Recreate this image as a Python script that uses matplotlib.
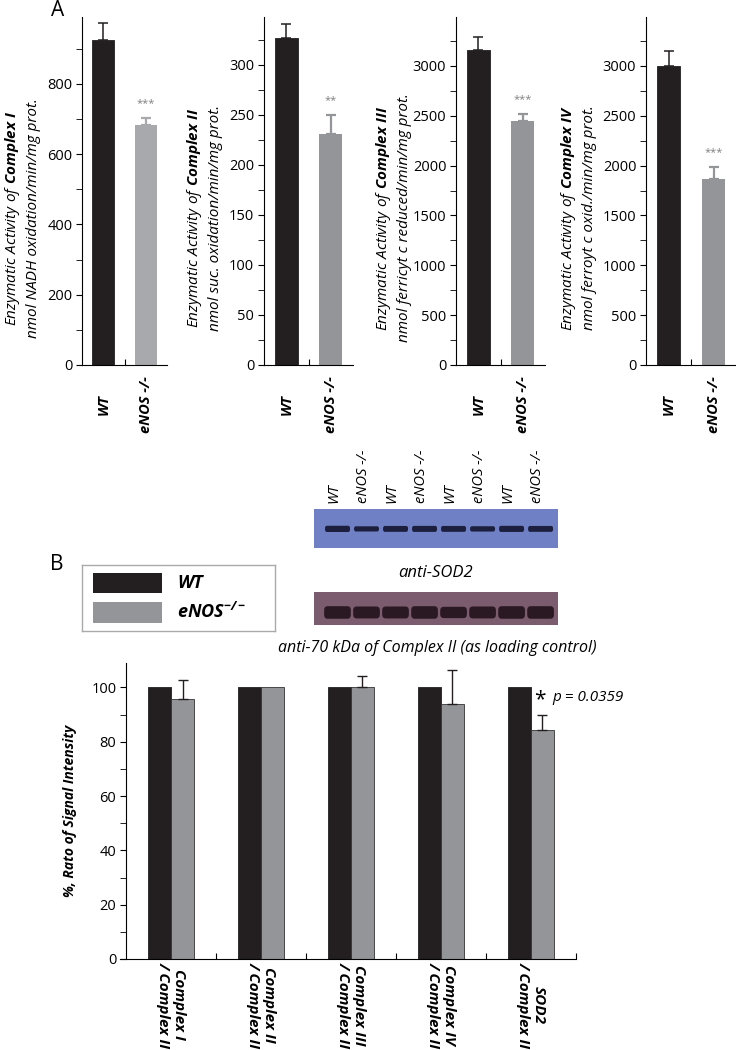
import matplotlib
matplotlib.use("Agg")
import matplotlib.pyplot as plt
from matplotlib.patches import FancyBboxPatch, Rectangle
from matplotlib.transforms import blended_transform_factory

plt.rcParams['font.family'] = ['Open Sans', 'DejaVu Sans']
plt.rcParams['mathtext.fontset'] = 'custom'
plt.rcParams['mathtext.rm'] = 'Open Sans:italic'
plt.rcParams['mathtext.it'] = 'Open Sans:italic'
plt.rcParams['mathtext.bf'] = 'Open Sans:italic:bold'

# ---------------- data ----------------
groups_top = ["WT", "eNOS -/-"]
complex_names = ["I", "II", "III", "IV"]
units = ["nmol NADH oxidation/min/mg prot.",
         "nmol suc. oxidation/min/mg prot.",
         "nmol ferricyt c reduced/min/mg prot.",
         "nmol ferroyt c oxid./min/mg prot."]
wt_activity = [925, 327, 3157, 2997]
wt_err = [47, 14, 133, 153]
enos_activity = [682, 231, 2443, 1867]
enos_err = [21, 19, 74, 123]
sig_marks = ["***", "**", "***", "***"]
ylims_top = [990, 348, 3490, 3490]
major_steps = [200, 50, 500, 500]
minor_steps = [100, 25, 250, 250]
enos_colors = ["#a7a9ac", "#939598", "#939598", "#939598"]

lane_labels = ["WT", "eNOS -/-"] * 4
sod2_band = [1.0, 0.55, 0.85, 0.9, 0.85, 0.6, 0.95, 0.85]
ctrl_band = [1.0, 0.95, 0.95, 1.0, 0.9, 0.95, 1.0, 1.0]

ratio_labels = ["Complex I\n/ Complex II", "Complex II\n/ Complex II",
                "Complex III\n/ Complex II", "Complex IV\n/ Complex II",
                "SOD2\n/ Complex II"]
wt_ratio = [100, 100, 100, 100, 100]
enos_ratio = [95.8, 100, 100, 94.0, 84.4]
enos_ratio_err = [6.8, 0, 4.3, 12.5, 5.4]

WT_COLOR = "#231f20"
GRAY = "#939598"

W, H = 736, 1050
fig = plt.figure(figsize=(W / 100, H / 100), dpi=100)


def ax_px(l, t, r, b):
    return fig.add_axes([l / W, 1 - b / H, (r - l) / W, (b - t) / H])


# ---------------- panel A ----------------
panel_x = [(82, 167), (264, 353), (456, 545), (646, 736)]
label_x = [22, 204, 393, 578]
for i in range(4):
    l, r = panel_x[i]
    ax = ax_px(l, 17, r, 365)
    ax.bar([0], [wt_activity[i]], width=0.52, color=WT_COLOR, edgecolor=WT_COLOR, lw=0.6)
    ax.errorbar([0], [wt_activity[i]], yerr=[[0], [wt_err[i]]], fmt='none',
                ecolor=WT_COLOR, elinewidth=1.1, capsize=3.5, capthick=1.1)
    ax.bar([1], [enos_activity[i]], width=0.52, color=enos_colors[i])
    ax.errorbar([1], [enos_activity[i]], yerr=[[0], [enos_err[i]]], fmt='none',
                ecolor=enos_colors[i], elinewidth=1.6, capsize=3.5, capthick=1.6)
    ax.text(1, enos_activity[i] + enos_err[i] + ylims_top[i] * 0.025, sig_marks[i],
            ha='center', va='bottom', fontsize=8, color='#808080')
    ax.set_xlim(-0.5, 1.5)
    ax.set_ylim(0, ylims_top[i])
    ax.spines['top'].set_visible(False)
    ax.spines['right'].set_visible(False)
    ax.set_xticks([0.5])
    ax.set_xticklabels([])
    ax.tick_params(axis='x', direction='in', length=4)
    ax.set_yticks(range(0, ylims_top[i], major_steps[i]))
    ax.set_yticks(range(0, ylims_top[i], minor_steps[i]), minor=True)
    ax.tick_params(axis='y', which='both', direction='out', length=4, labelsize=10.5, pad=3)
    trans = blended_transform_factory(ax.transData, ax.transAxes)
    for j, g in enumerate(groups_top):
        ax.text(j, -40 / 348, g, transform=trans, rotation=90, ha='center', va='center',
                fontsize=10.5, fontweight='bold', fontstyle='italic')
    lab = (r"$\mathit{Enzymatic\ Activity\ of\ }\mathbf{Complex\ " + complex_names[i] + "}$"
           + "\n" + units[i])
    fig.text(label_x[i] / W, 1 - 218 / H, lab, rotation=90, ha='center', va='center',
             fontsize=11, fontstyle='italic', multialignment='center', linespacing=1.3)

fig.text(58 / W, 1 - 10 / H, "A", fontsize=15, ha='center', va='center')
fig.text(57 / W, 1 - 564 / H, "B", fontsize=15, ha='center', va='center')

# ---------------- blots ----------------
blot1 = ax_px(314, 509, 558, 548)
blot1.set_facecolor("#6f81c4")
for k, v in enumerate(sod2_band):
    h = 0.1 + 0.06 * v
    blot1.add_patch(FancyBboxPatch((k - 0.43, 0.49 - h / 2), 0.86, h,
                                   boxstyle="round,pad=0,rounding_size=0.06",
                                   fc="#1c1f3e", ec='none'))
blot1.set_xlim(-0.81, 7.6)
blot1.set_ylim(0, 1)
blot1.set_xticks([])
blot1.set_yticks([])
for s in blot1.spines.values():
    s.set_visible(False)

blot2 = ax_px(314, 592, 558, 625)
blot2.set_facecolor("#7b5b6e")
for k, v in enumerate(ctrl_band):
    h = 0.38 * v
    blot2.add_patch(FancyBboxPatch((k - 0.46, 0.38 - h / 2), 0.92, h,
                                   boxstyle="round,pad=0,rounding_size=0.12",
                                   fc="#2a1823", ec='none'))
blot2.set_xlim(-0.81, 7.6)
blot2.set_ylim(0, 1)
blot2.set_xticks([])
blot2.set_yticks([])
for s in blot2.spines.values():
    s.set_visible(False)

btrans = blended_transform_factory(blot1.transData, fig.transFigure)
for k, lab in enumerate(lane_labels):
    blot1.text(k - 0.12, 1 - 503 / H, lab, transform=btrans, rotation=90, ha='center',
               va='bottom', fontsize=10.5, fontstyle='italic')

fig.text(436 / W, 1 - 573 / H, "anti-SOD2", ha='center', va='center', fontsize=12,
         fontstyle='italic')
fig.text(437 / W, 1 - 648 / H, "anti-70 kDa of Complex II (as loading control)", ha='center',
         va='center', fontsize=11.5, fontstyle='italic')

# ---------------- legend box ----------------
leg = ax_px(82, 565, 275, 631)
leg.set_xlim(82, 275)
leg.set_ylim(631, 565)
leg.set_xticks([])
leg.set_yticks([])
for s in leg.spines.values():
    s.set_color("#aaaaaa")
    s.set_linewidth(1.0)
leg.add_patch(Rectangle((93, 573), 69, 20, fc=WT_COLOR, ec='none'))
leg.add_patch(Rectangle((93, 602), 69, 21, fc=GRAY, ec='none'))
leg.text(177, 583, "WT", fontsize=13, fontweight='bold', fontstyle='italic', va='center')
leg.text(177, 612, r"$\mathbf{eNOS}^{\mathbf{-/-}}$", fontsize=13, va='center')

# ---------------- panel B bar chart ----------------
axb = ax_px(120, 663, 576, 959)
xs = list(range(len(ratio_labels)))
bw = 0.255
axb.bar([x - bw / 2 for x in xs], wt_ratio, width=bw, color=WT_COLOR, edgecolor=WT_COLOR, lw=0.6)
axb.bar([x + bw / 2 for x in xs], enos_ratio, width=bw, color=GRAY, edgecolor="#333333", lw=0.6)
err_x = [x + bw / 2 for x, e in zip(xs, enos_ratio_err) if e > 0]
err_y = [v for v, e in zip(enos_ratio, enos_ratio_err) if e > 0]
err_e = [e for e in enos_ratio_err if e > 0]
axb.errorbar(err_x, err_y, yerr=[[0] * len(err_e), err_e], fmt='none', ecolor='#231f20',
             elinewidth=1.0, capsize=3.5, capthick=1.0)
axb.set_xlim(-0.567, 4.5)
axb.spines['left'].set_position(('data', -0.5))
axb.set_ylim(0, 109)
axb.spines['top'].set_visible(False)
axb.spines['right'].set_visible(False)
axb.set_xticks([0.5, 1.5, 2.5, 3.5, 4.5])
axb.set_xticklabels([])
axb.tick_params(axis='x', direction='in', length=4)
axb.set_xticks(xs, minor=True)
axb.set_xticklabels(ratio_labels, minor=True, rotation=-90, ha='center', va='top',
                    fontsize=11, fontweight='bold', fontstyle='italic',
                    multialignment='center', linespacing=1.1)
axb.tick_params(axis='x', which='minor', length=0, pad=2)
axb.set_yticks(range(0, 101, 20))
axb.set_yticks(range(0, 101, 10), minor=True)
axb.tick_params(axis='y', which='both', direction='out', length=4, labelsize=10.5, pad=3)
axb.set_ylabel("%, Rato of Signal Intensity", fontsize=10, fontweight='bold',
               fontstyle='italic', labelpad=10)
axb.text(4.10, 95.5, "*", fontsize=15, ha='center', va='center')
axb.text(4.24, 96.3, "p = 0.0359", fontsize=11, fontstyle='italic',
         ha='left', va='center')

fig.savefig("out.png", dpi=100)
